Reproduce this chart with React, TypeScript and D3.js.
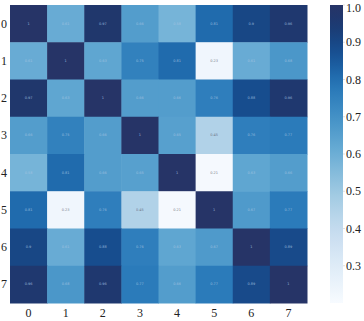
import React from "react";
import * as d3 from "d3";

const labels = ["0", "1", "2", "3", "4", "5", "6", "7"];
const row0 = [1, 0.61, 0.97, 0.66, 0.58, 0.81, 0.9, 0.96];
const row1 = [0.61, 1, 0.63, 0.75, 0.81, 0.23, 0.61, 0.68];
const row2 = [0.97, 0.63, 1, 0.66, 0.66, 0.76, 0.88, 0.96];
const row3 = [0.66, 0.75, 0.66, 1, 0.65, 0.45, 0.76, 0.77];
const row4 = [0.58, 0.81, 0.66, 0.65, 1, 0.21, 0.63, 0.66];
const row5 = [0.81, 0.23, 0.76, 0.45, 0.21, 1, 0.67, 0.77];
const row6 = [0.9, 0.61, 0.88, 0.76, 0.63, 0.67, 1, 0.89];
const row7 = [0.96, 0.68, 0.96, 0.77, 0.66, 0.77, 0.89, 1];
const matrix = [row0, row1, row2, row3, row4, row5, row6, row7];
const colorbarTicks = [0.3, 0.4, 0.5, 0.6, 0.7, 0.8, 0.9, 1.0];
const vmin = 0.2;
const vmax = 1.0;

function cmap(t: number): string {
  const base = d3.interpolateBlues(Math.max(0, Math.min(1, t)));
  const w = Math.pow(Math.max(0, (t - 0.72) / 0.28), 1.4);
  return d3.interpolateRgb(base, "#2b3566")(w * 0.85);
}

export default function App() {
  const W = 364, H = 321;
  const left = 10, right = 307, top = 5, bottom = 303;
  const x = d3.scaleBand<string>().domain(labels).range([left, right]);
  const y = d3.scaleBand<string>().domain(labels).range([top, bottom]);
  const norm = d3.scaleLinear().domain([vmin, vmax]).range([0, 1]);
  const color = (v: number) => cmap(norm(v));
  const cbX = 330, cbW = 13;
  const cbY = d3.scaleLinear().domain([vmin, vmax]).range([bottom, top]);
  const stops = d3.range(0, 1.0001, 0.04);
  const font = "'Liberation Serif', 'Times New Roman', serif";

  return (
    <svg width={W} height={H} style={{ position: "absolute", left: 0, top: 0, background: "#fff" }}>
      <defs>
        <linearGradient id="cb" x1="0" y1="1" x2="0" y2="0">
          {stops.map((s) => (
            <stop key={s} offset={s} stopColor={cmap(s)} />
          ))}
        </linearGradient>
      </defs>
      {matrix.map((row, i) =>
        row.map((v, j) => (
          <g key={`${i}-${j}`}>
            <rect
              x={x(labels[j])}
              y={y(labels[i])}
              width={x.bandwidth() + 0.5}
              height={y.bandwidth() + 0.5}
              fill={color(v)}
            />
            <text
              x={(x(labels[j]) as number) + x.bandwidth() / 2}
              y={(y(labels[i]) as number) + y.bandwidth() / 2}
              textAnchor="middle"
              dominantBaseline="central"
              fontSize={3.5}
              fontFamily="DejaVu Sans"
              fill={v < 0.5 ? "#667" : "#a9c6e3"}
              opacity={0.85}
            >
              {v === 1 ? "1" : String(v)}
            </text>
          </g>
        ))
      )}
      {labels.map((l) => (
        <text
          key={"y" + l}
          x={7}
          y={(y(l) as number) + y.bandwidth() / 2}
          textAnchor="end"
          dominantBaseline="central"
          fontSize={12}
          fontFamily={font}
          fill="#222"
        >
          {l}
        </text>
      ))}
      {labels.map((l) => (
        <text
          key={"x" + l}
          x={(x(l) as number) + x.bandwidth() / 2}
          y={313}
          textAnchor="middle"
          dominantBaseline="central"
          fontSize={12}
          fontFamily={font}
          fill="#222"
        >
          {l}
        </text>
      ))}
      <rect x={cbX} y={top} width={cbW} height={bottom - top} fill="url(#cb)" />
      {colorbarTicks.map((t) => (
        <g key={"c" + t}>
          <line x1={cbX + cbW} x2={cbX + cbW + 2} y1={cbY(t)} y2={cbY(t)} stroke="#ccc" strokeWidth={0.6} />
          <text
            x={cbX + cbW + 3}
            y={Math.max(cbY(t), 8)}
            dominantBaseline="central"
            fontSize={12}
            fontFamily={font}
            fill="#222"
          >
            {t.toFixed(1)}
          </text>
        </g>
      ))}
    </svg>
  );
}
